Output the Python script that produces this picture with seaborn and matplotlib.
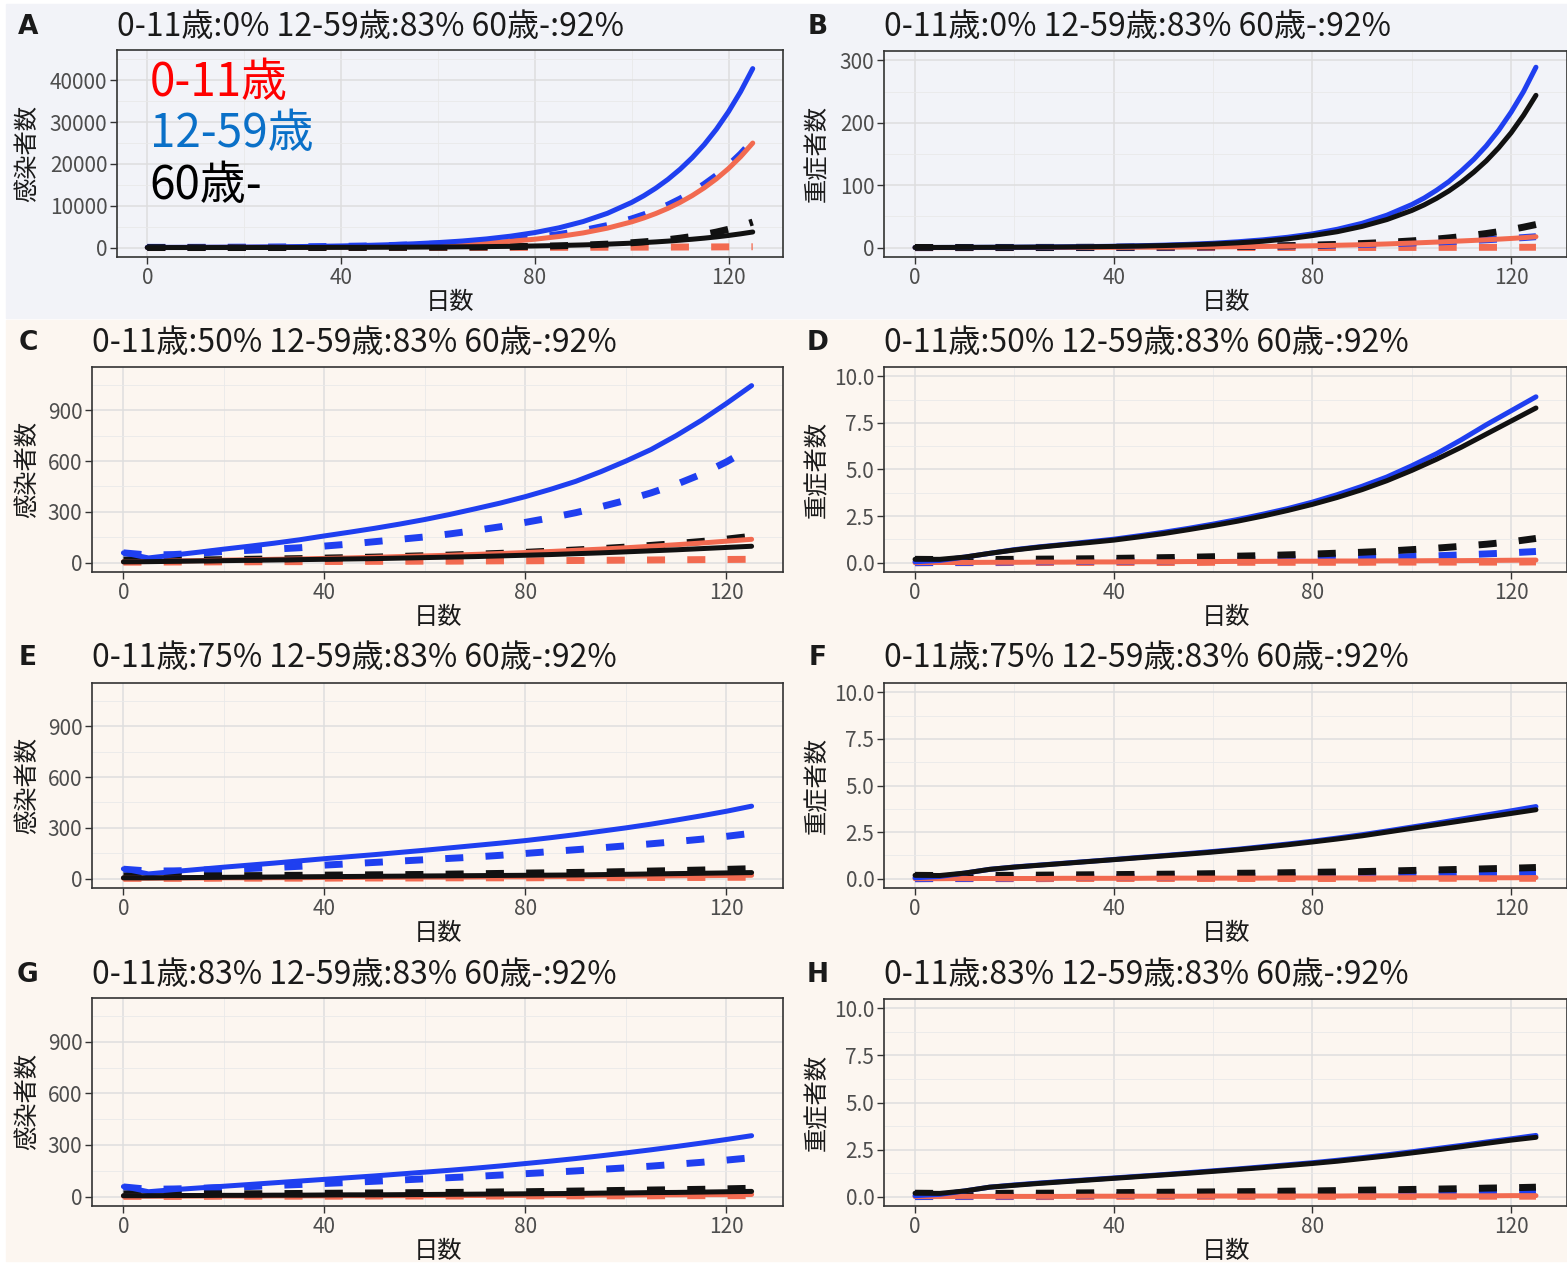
import matplotlib
matplotlib.use("Agg")
import matplotlib.pyplot as plt
from matplotlib.patches import Rectangle
import seaborn as sns

# ---- data ----
days = [0, 5, 10, 15, 20, 25, 30, 35, 40, 45, 50, 55, 60, 65, 70, 75, 80, 85, 90, 95, 100, 105, 110, 115, 120, 125]
# finer steps at the steep tail of the 0% scenario
days_ab = [0, 5, 10, 15, 20, 25, 30, 35, 40, 45, 50, 55, 60, 65, 70, 75, 80, 85, 90, 95, 100,
           102.5, 105, 107.5, 110, 112.5, 115, 117.5, 120, 122.5, 125]

# A: infections, 0-11 at 0%
a_red_solid = [20, 29, 39, 52, 69, 91, 120, 160, 211, 280, 371, 491, 651, 862, 1140, 1510, 2000, 2650, 3510, 4650, 6150,
               7080, 8150, 9380, 10800, 12430, 14300, 16440, 18900, 21740, 25000]
a_red_dash = [5, 6, 7, 8, 9, 10, 12, 14, 16, 18, 21, 24, 28, 33, 38, 44, 51, 60, 70, 82, 96,
              104, 112, 121, 130, 140, 150, 162, 175, 187, 200]
a_blue_solid = [60, 58, 76, 100, 132, 174, 229, 302, 397, 523, 689, 907, 1195, 1570, 2070, 2730, 3590, 4730, 6230, 8200, 10800,
                12390, 14220, 16320, 18730, 21490, 24650, 28300, 32500, 37300, 42800]
a_blue_dash = [58, 50, 61, 79, 103, 134, 174, 226, 294, 382, 497, 645, 840, 1090, 1420, 1840, 2400, 3120, 4050, 5270, 6850,
               7810, 8900, 10160, 11600, 13230, 15100, 17200, 19600, 22360, 25500]
a_black_solid = [10, 11, 13, 16, 20, 25, 31, 40, 52, 67, 86, 110, 142, 183, 235, 300, 390, 500, 640, 825, 1060,
                 1200, 1360, 1550, 1760, 2000, 2260, 2560, 2900, 3290, 3730]
a_black_dash = [15, 14, 14, 15, 16, 18, 20, 23, 28, 35, 45, 60, 82, 115, 160, 220, 305, 430, 595, 830, 1160,
                1370, 1610, 1900, 2250, 2660, 3140, 3710, 4380, 5170, 6100]

# B: severe, 0-11 at 0%
b_red_solid = [0.08, 0.1, 0.12, 0.15, 0.19, 0.24, 0.3, 0.38, 0.48, 0.6, 0.75, 0.95, 1.2, 1.5, 1.9, 2.4, 3.0, 3.8, 4.7, 5.9, 7.3,
               8.1, 8.9, 9.8, 10.7, 11.6, 12.5, 13.6, 14.7, 16.0, 17.5]
b_red_dash = [0.02, 0.02, 0.03, 0.03, 0.04, 0.04, 0.05, 0.05, 0.06, 0.07, 0.08, 0.09, 0.1, 0.12, 0.14, 0.16, 0.18, 0.21, 0.24, 0.28, 0.32,
              0.34, 0.36, 0.39, 0.42, 0.45, 0.48, 0.51, 0.54, 0.57, 0.6]
b_blue_solid = [0.2, 0.3, 0.4, 0.55, 0.7, 0.95, 1.3, 1.7, 2.2, 3.0, 4.0, 5.3, 7.0, 9.4, 12.5, 16.6, 22, 29.4, 39, 52, 69,
                79.5, 92, 106, 123, 141.5, 163, 188, 217, 250, 289]
b_blue_dash = [0.05, 0.07, 0.1, 0.13, 0.17, 0.22, 0.28, 0.36, 0.46, 0.6, 0.78, 1.0, 1.3, 1.65, 2.1, 2.7, 3.4, 4.2, 5.1, 6.2, 7.5,
               8.2, 9.0, 9.8, 10.7, 11.6, 12.6, 13.7, 14.9, 16.1, 17.5]
b_black_solid = [0.25, 0.3, 0.38, 0.5, 0.64, 0.85, 1.1, 1.45, 1.9, 2.5, 3.3, 4.4, 5.8, 7.7, 10.2, 14.0, 19.3, 25.5, 34, 45, 59.5,
                 68.5, 79, 91, 105, 121, 139, 160, 184, 212, 244]
b_black_dash = [0.27, 0.27, 0.28, 0.3, 0.32, 0.36, 0.42, 0.5, 0.6, 0.75, 0.95, 1.2, 1.5, 1.9, 2.45, 3.1, 4.0, 5.1, 6.6, 8.4, 10.8,
                12.2, 13.8, 15.6, 17.7, 20.0, 22.6, 25.6, 29, 32.8, 37]

# C: infections, 0-11 at 50%
c_red_solid = [5, 7, 10, 12, 15, 17, 20, 22, 25, 28, 32, 36, 40, 44, 49, 54, 60, 66, 73, 80, 88, 97, 106, 116, 127, 138]
c_red_dash = [3, 3, 4, 4, 5, 5, 6, 6, 7, 7, 8, 8, 9, 9, 10, 11, 11, 12, 13, 14, 15, 16, 17, 18, 19, 20]
c_blue_solid = [58, 28, 45, 62, 80, 97, 115, 135, 158, 180, 203, 228, 255, 285, 318, 352, 390, 433, 480, 537, 600, 668, 750, 840, 940, 1045]
c_blue_dash = [58, 45, 48, 56, 66, 73, 80, 88, 98, 110, 124, 138, 152, 170, 190, 212, 238, 265, 295, 330, 368, 412, 462, 522, 595, 680]
c_black_solid = [5, 6, 8, 10, 12, 14, 16, 18, 20, 22, 24, 27, 30, 33, 36, 40, 44, 48, 53, 58, 64, 70, 76, 83, 90, 97]
c_black_dash = [15, 14, 15, 16, 18, 20, 22, 24, 27, 30, 33, 37, 41, 45, 50, 55, 61, 68, 75, 83, 92, 102, 113, 125, 139, 156]

# D: severe, 0-11 at 50%
d_red_solid = [0.0, 0.01, 0.01, 0.02, 0.02, 0.03, 0.03, 0.04, 0.04, 0.05, 0.05, 0.06, 0.06, 0.07, 0.07, 0.08, 0.08, 0.09, 0.09, 0.1, 0.1, 0.11, 0.11, 0.12, 0.13, 0.14]
d_red_dash = [0.0, 0.0, 0.0, 0.0, 0.01, 0.01, 0.01, 0.01, 0.01, 0.01, 0.01, 0.01, 0.02, 0.02, 0.02, 0.02, 0.02, 0.02, 0.02, 0.03, 0.03, 0.03, 0.03, 0.03, 0.03, 0.04]
d_blue_solid = [0.05, 0.12, 0.3, 0.5, 0.7, 0.85, 0.98, 1.12, 1.26, 1.44, 1.63, 1.84, 2.07, 2.32, 2.6, 2.9, 3.25, 3.65, 4.1, 4.6, 5.2, 5.85, 6.6, 7.4, 8.15, 8.9]
d_blue_dash = [0.0, 0.01, 0.02, 0.03, 0.04, 0.05, 0.06, 0.07, 0.08, 0.09, 0.1, 0.115, 0.13, 0.15, 0.17, 0.19, 0.21, 0.235, 0.26, 0.29, 0.33, 0.37, 0.42, 0.47, 0.53, 0.6]
d_black_solid = [0.18, 0.18, 0.3, 0.5, 0.68, 0.83, 0.96, 1.08, 1.21, 1.38, 1.56, 1.77, 1.99, 2.23, 2.5, 2.8, 3.13, 3.5, 3.92, 4.4, 4.95, 5.55, 6.2, 6.9, 7.6, 8.3]
d_black_dash = [0.18, 0.17, 0.17, 0.17, 0.18, 0.19, 0.2, 0.21, 0.23, 0.25, 0.27, 0.29, 0.32, 0.35, 0.38, 0.42, 0.46, 0.51, 0.56, 0.62, 0.7, 0.78, 0.88, 0.99, 1.12, 1.3]

# E: infections, 0-11 at 75%
e_red_solid = [3, 3, 4, 4, 5, 5, 6, 6, 7, 7, 8, 8, 9, 9, 10, 11, 11, 12, 13, 14, 15, 16, 17, 18, 19, 20]
e_red_dash = [2, 2, 2, 2, 3, 3, 3, 3, 3, 4, 4, 4, 4, 5, 5, 5, 5, 6, 6, 6, 6, 7, 7, 7, 8, 8]
e_blue_solid = [58, 28, 42, 55, 68, 80, 92, 105, 118, 130, 142, 155, 168, 182, 196, 210, 225, 242, 260, 280, 300, 322, 346, 371, 398, 428]
e_blue_dash = [56, 45, 46, 50, 55, 60, 66, 73, 80, 88, 96, 104, 112, 120, 128, 138, 149, 160, 171, 182, 194, 206, 219, 233, 250, 268]
e_black_solid = [5, 5, 6, 7, 8, 9, 10, 11, 12, 13, 14, 15, 16, 17, 18, 19, 20, 21, 22, 24, 26, 28, 30, 32, 34, 36]
e_black_dash = [15, 14, 15, 16, 17, 18, 19, 20, 21, 22, 23, 24, 25, 27, 29, 31, 33, 35, 37, 39, 42, 45, 48, 51, 55, 59]

# F: severe, 0-11 at 75%
f_red_solid = [0.0, 0.0, 0.01, 0.01, 0.01, 0.01, 0.02, 0.02, 0.02, 0.02, 0.03, 0.03, 0.03, 0.03, 0.03, 0.04, 0.04, 0.04, 0.04, 0.04, 0.05, 0.05, 0.05, 0.05, 0.05, 0.06]
f_red_dash = [0.0, 0.0, 0.0, 0.0, 0.0, 0.0, 0.01, 0.01, 0.01, 0.01, 0.01, 0.01, 0.01, 0.01, 0.01, 0.01, 0.01, 0.01, 0.02, 0.02, 0.02, 0.02, 0.02, 0.02, 0.02, 0.02]
f_blue_solid = [0.05, 0.12, 0.3, 0.5, 0.63, 0.73, 0.83, 0.93, 1.03, 1.14, 1.24, 1.35, 1.46, 1.58, 1.72, 1.86, 2.01, 2.18, 2.36, 2.56, 2.77, 2.98, 3.2, 3.42, 3.64, 3.87]
f_blue_dash = [0.0, 0.01, 0.02, 0.03, 0.04, 0.05, 0.06, 0.07, 0.07, 0.08, 0.09, 0.1, 0.11, 0.12, 0.13, 0.14, 0.15, 0.16, 0.17, 0.19, 0.2, 0.22, 0.24, 0.26, 0.28, 0.3]
f_black_solid = [0.18, 0.17, 0.3, 0.5, 0.62, 0.72, 0.82, 0.92, 1.02, 1.12, 1.22, 1.32, 1.43, 1.55, 1.68, 1.82, 1.97, 2.13, 2.3, 2.5, 2.7, 2.9, 3.1, 3.3, 3.5, 3.7]
f_black_dash = [0.18, 0.17, 0.17, 0.18, 0.18, 0.19, 0.2, 0.21, 0.22, 0.23, 0.24, 0.25, 0.27, 0.29, 0.3, 0.32, 0.34, 0.36, 0.38, 0.41, 0.44, 0.47, 0.5, 0.53, 0.56, 0.6]

# G: infections, 0-11 at 83%
g_red_solid = [2, 2, 2, 3, 3, 3, 4, 4, 4, 5, 5, 5, 6, 6, 6, 7, 7, 8, 8, 9, 9, 10, 10, 11, 11, 12]
g_red_dash = [1, 1, 1, 1, 2, 2, 2, 2, 2, 2, 3, 3, 3, 3, 3, 3, 4, 4, 4, 4, 4, 4, 5, 5, 5, 5]
g_blue_solid = [58, 28, 40, 50, 60, 70, 80, 90, 100, 110, 120, 131, 142, 153, 165, 178, 192, 206, 221, 237, 254, 272, 291, 311, 332, 354]
g_blue_dash = [56, 42, 44, 48, 53, 58, 64, 70, 76, 82, 89, 96, 103, 110, 117, 125, 133, 141, 149, 158, 167, 177, 188, 199, 212, 226]
g_black_solid = [5, 5, 6, 6, 7, 7, 8, 8, 9, 10, 10, 11, 12, 13, 14, 15, 16, 17, 18, 20, 21, 23, 24, 26, 28, 30]
g_black_dash = [15, 14, 15, 15, 16, 16, 17, 18, 19, 20, 21, 22, 23, 24, 25, 27, 28, 30, 32, 34, 36, 38, 40, 42, 45, 48]

# H: severe, 0-11 at 83%
h_red_solid = [0.0, 0.0, 0.01, 0.01, 0.01, 0.01, 0.01, 0.02, 0.02, 0.02, 0.02, 0.02, 0.03, 0.03, 0.03, 0.03, 0.03, 0.03, 0.04, 0.04, 0.04, 0.04, 0.04, 0.04, 0.05, 0.05]
h_red_dash = [0.0, 0.0, 0.0, 0.0, 0.0, 0.0, 0.0, 0.01, 0.01, 0.01, 0.01, 0.01, 0.01, 0.01, 0.01, 0.01, 0.01, 0.01, 0.01, 0.01, 0.01, 0.02, 0.02, 0.02, 0.02, 0.02]
h_blue_solid = [0.05, 0.12, 0.3, 0.5, 0.62, 0.72, 0.81, 0.9, 0.99, 1.08, 1.17, 1.27, 1.37, 1.47, 1.58, 1.69, 1.8, 1.93, 2.07, 2.22, 2.38, 2.55, 2.72, 2.9, 3.07, 3.25]
h_blue_dash = [0.0, 0.01, 0.02, 0.03, 0.03, 0.04, 0.05, 0.05, 0.06, 0.07, 0.07, 0.08, 0.09, 0.1, 0.1, 0.11, 0.12, 0.13, 0.14, 0.15, 0.16, 0.18, 0.19, 0.21, 0.23, 0.25]
h_black_solid = [0.18, 0.17, 0.3, 0.5, 0.6, 0.7, 0.79, 0.88, 0.97, 1.06, 1.15, 1.24, 1.34, 1.44, 1.54, 1.65, 1.76, 1.88, 2.02, 2.16, 2.32, 2.48, 2.65, 2.83, 3.0, 3.15]
h_black_dash = [0.18, 0.17, 0.17, 0.17, 0.18, 0.18, 0.19, 0.2, 0.21, 0.22, 0.23, 0.24, 0.25, 0.26, 0.27, 0.29, 0.3, 0.32, 0.34, 0.36, 0.38, 0.4, 0.42, 0.45, 0.47, 0.5]

titles = {
    "A": "0-11歳:0% 12-59歳:83% 60歳-:92%",
    "B": "0-11歳:0% 12-59歳:83% 60歳-:92%",
    "C": "0-11歳:50% 12-59歳:83% 60歳-:92%",
    "D": "0-11歳:50% 12-59歳:83% 60歳-:92%",
    "E": "0-11歳:75% 12-59歳:83% 60歳-:92%",
    "F": "0-11歳:75% 12-59歳:83% 60歳-:92%",
    "G": "0-11歳:83% 12-59歳:83% 60歳-:92%",
    "H": "0-11歳:83% 12-59歳:83% 60歳-:92%",
}
age_labels = ["0-11歳", "12-59歳", "60歳-"]

RED = "#f26a50"
BLUE = "#1f3ff0"
BLACK = "#111111"

sns.set_theme(style="white")
plt.rcParams["font.family"] = ["Noto Sans CJK JP", "DejaVu Sans"]

W, H = 1567, 1263
fig = plt.figure(figsize=(W / 100, H / 100), dpi=100)
fig.patch.set_facecolor("white")


def frect(l, t, r, b):
    return [l / W, 1 - b / H, (r - l) / W, (b - t) / H]


# row backgrounds
fig.patches.append(Rectangle((6 / W, 1 - 318 / H), (W - 6) / W, 314 / H,
                             transform=fig.transFigure, color="#f2f3f8", zorder=-10))
fig.patches.append(Rectangle((6 / W, 1 - 1261 / H), (W - 6) / W, 941 / H,
                             transform=fig.transFigure, color="#fcf6f0", zorder=-10))

inf_ticks = ([0, 300, 600, 900], [150, 450, 750, 1050], 1100, ["0", "300", "600", "900"])
sev_ticks = ([0, 2.5, 5, 7.5, 10], [1.25, 3.75, 6.25, 8.75], 10, ["0.0", "2.5", "5.0", "7.5", "10.0"])

panels = [
    ("A", (117, 50, 783, 257), 27, "感染者数", days_ab,
     ([0, 10000, 20000, 30000, 40000], [5000, 15000, 25000, 35000, 45000], 45000,
      ["0", "10000", "20000", "30000", "40000"]),
     [a_red_solid, a_red_dash, a_blue_solid, a_blue_dash, a_black_solid, a_black_dash]),
    ("B", (884, 51, 1567, 257), 27, "重症者数", days_ab,
     ([0, 100, 200, 300], [50, 150, 250], 300, ["0", "100", "200", "300"]),
     [b_red_solid, b_red_dash, b_blue_solid, b_blue_dash, b_black_solid, b_black_dash]),
    ("C", (92, 367, 783, 572), 343, "感染者数", days, inf_ticks,
     [c_red_solid, c_red_dash, c_blue_solid, c_blue_dash, c_black_solid, c_black_dash]),
    ("D", (884, 367, 1567, 572), 343, "重症者数", days, sev_ticks,
     [d_red_solid, d_red_dash, d_blue_solid, d_blue_dash, d_black_solid, d_black_dash]),
    ("E", (92, 683, 783, 888), 658, "感染者数", days, inf_ticks,
     [e_red_solid, e_red_dash, e_blue_solid, e_blue_dash, e_black_solid, e_black_dash]),
    ("F", (884, 683, 1567, 888), 658, "重症者数", days, sev_ticks,
     [f_red_solid, f_red_dash, f_blue_solid, f_blue_dash, f_black_solid, f_black_dash]),
    ("G", (92, 998, 783, 1206), 975, "感染者数", days, inf_ticks,
     [g_red_solid, g_red_dash, g_blue_solid, g_blue_dash, g_black_solid, g_black_dash]),
    ("H", (884, 999, 1567, 1206), 975, "重症者数", days, sev_ticks,
     [h_red_solid, h_red_dash, h_blue_solid, h_blue_dash, h_black_solid, h_black_dash]),
]

dash_style = (0, (2.6, 3.2))

for letter, box, title_y, ylab, xdays, ticks, series in panels:
    ax = fig.add_axes(frect(*box))
    ax.set_facecolor("none")
    ax.set_axisbelow(True)
    rs, rd, bs, bd, ks, kd = series
    # dashed first, then solid
    for vals, col in [(rd, RED), (bd, BLUE), (kd, BLACK)]:
        sns.lineplot(x=xdays, y=vals, color=col, linewidth=5.0, linestyle=dash_style,
                     ax=ax, legend=False)
    for vals, col in [(rs, RED), (bs, BLUE), (ks, BLACK)]:
        sns.lineplot(x=xdays, y=vals, color=col, linewidth=3.6, ax=ax, legend=False)

    major, minor, top, labels = ticks
    ax.set_xlim(-6.25, 131.25)
    ax.set_ylim(-0.05 * top, 1.05 * top)
    ax.set_xticks([0, 40, 80, 120])
    ax.set_xticklabels(["0", "40", "80", "120"])
    ax.set_xticks([20, 60, 100], minor=True)
    ax.set_yticks(major)
    ax.set_yticklabels(labels)
    ax.set_yticks(minor, minor=True)
    ax.grid(which="major", color="#dedede", linewidth=1.1)
    ax.grid(which="minor", color="#e9e9e9", linewidth=0.6)
    ax.tick_params(which="major", direction="out", length=5, width=1.0, color="#333333",
                   labelcolor="#4d4d4d", labelsize=15, pad=2, left=True, bottom=True)
    ax.tick_params(which="minor", length=0)
    for sp in ax.spines.values():
        sp.set_color("#333333")
        sp.set_linewidth(1.2)
    ax.set_xlabel("日数", fontsize=17.5, color="#1a1a1a", labelpad=0)
    ax.set_ylabel(ylab, fontsize=17.5, color="#1a1a1a", labelpad=2)
    # y label right edge at a fixed page position, as in the reference
    lab_right = 40 if box[0] < 500 else 830
    ax.yaxis.set_label_coords((lab_right - box[0]) / (box[2] - box[0]), 0.5)

    fig.text(box[0] / W, 1 - title_y / H, titles[letter], ha="left", va="center",
             fontsize=23, color="#1a1a1a")
    lx = 28 if box[0] < 500 else 818
    fig.text(lx / W, 1 - title_y / H, letter, ha="center", va="center",
             fontsize=19, fontweight="bold", color="#1a1a1a", family="DejaVu Sans")

    if letter == "A":
        for lab, yv, col in zip(age_labels, [39300, 27200, 14900], ["#ff0000", "#0a70c8", "#000000"]):
            ax.text(0.5, yv, lab, color=col, fontsize=33, ha="left", va="center")

fig.savefig("out.png", dpi=100)
